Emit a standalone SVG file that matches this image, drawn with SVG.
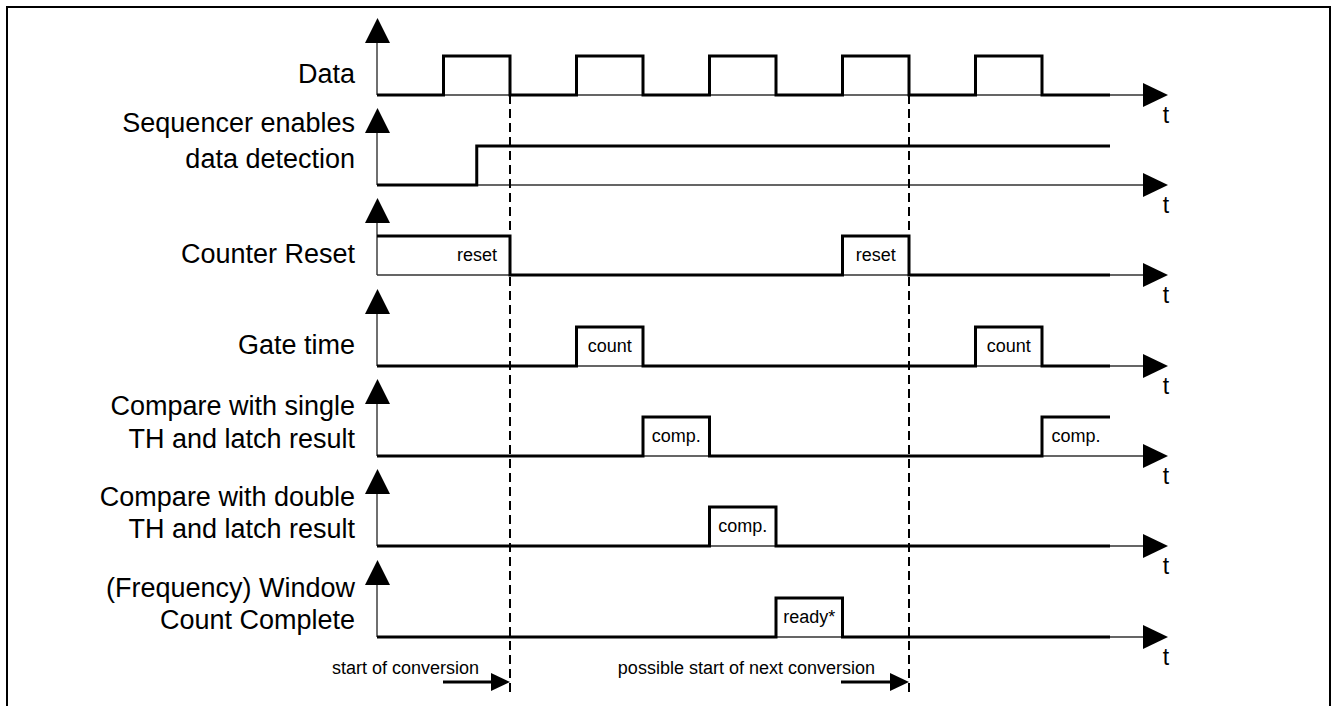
<svg xmlns="http://www.w3.org/2000/svg" xmlns:xlink="http://www.w3.org/1999/xlink" width="1332" height="706" viewBox="0 0 1332 706">
<style>
.lbl{font-family:"Liberation Sans",Arial,sans-serif;font-size:27px;fill:#000;text-anchor:end}
.sm{font-family:"Liberation Sans",Arial,sans-serif;font-size:18px;fill:#000}
.c{text-anchor:middle}
.e{text-anchor:end}
.t{font-family:"Liberation Sans",Arial,sans-serif;font-size:23px;fill:#000;text-anchor:middle}
.ax{fill:none;stroke:#333;stroke-width:1.4}
.sig{fill:#fff;stroke:#000;stroke-width:3;stroke-linejoin:miter;stroke-linecap:butt}
.dash{fill:none;stroke:#000;stroke-width:2;stroke-dasharray:9 5}
.arr{fill:none;stroke:#000;stroke-width:3}
</style>
<defs>
<path id="ta" d="M0,-12 L25,0 L0,12 Z" fill="#000"/>
<path id="ya" d="M-12.5,0 L0,-25 L12.5,0 Z" fill="#000"/>
<path id="ba" d="M0,-9 L19,0 L0,9 Z" fill="#000"/>
</defs>
<rect width="1332" height="706" fill="#fff"/>
<path d="M7,706 V7 H1330 V706" fill="none" stroke="#000" stroke-width="2"/>

<g id="row-data">
<path class="ax" d="M377,95 V43 M377,95 H1143"/>
<use xlink:href="#ya" x="377.5" y="43"/>
<use xlink:href="#ta" x="1143" y="95"/>
<path class="sig" fill="none" d="M377,95 H443.5 V56 H510 V95 H576.5 V56 H643 V95 H709.5 V56 H776 V95 H842.5 V56 H909 V95 H975.5 V56 H1042 V95 H1110" style="fill:none"/>
<text class="lbl" x="355" y="83">Data</text>
<text class="t" x="1166" y="123">t</text>
</g>

<g id="row-sequencer">
<path class="ax" d="M377,185 V133 M377,185 H1143"/>
<use xlink:href="#ya" x="377.5" y="133"/>
<use xlink:href="#ta" x="1143" y="185"/>
<path class="sig" style="fill:none" d="M377,185 H476.75 V146 H1110"/>
<text class="lbl" x="355" y="132">Sequencer enables</text>
<text class="lbl" x="355" y="168">data detection</text>
<text class="t" x="1166" y="213">t</text>
</g>

<g id="row-counter-reset">
<path class="ax" d="M377,275 V223 M377,275 H1143"/>
<use xlink:href="#ya" x="377.5" y="223"/>
<use xlink:href="#ta" x="1143" y="275"/>
<path class="sig" style="fill:none" d="M377,236 H510 V275 H842.5 V236 H909 V275 H1110"/>
<text class="sm e" x="497" y="261">reset</text>
<text class="sm c" x="875.75" y="261">reset</text>
<text class="lbl" x="355" y="263">Counter Reset</text>
<text class="t" x="1166" y="303">t</text>
</g>

<g id="row-gate-time">
<path class="ax" d="M377,366 V314 M377,366 H1143"/>
<use xlink:href="#ya" x="377.5" y="314"/>
<use xlink:href="#ta" x="1143" y="366"/>
<path class="sig" style="fill:none" d="M377,366 H576.5 V327 H643 V366 H975.5 V327 H1042 V366 H1110"/>
<text class="sm c" x="609.75" y="352">count</text>
<text class="sm c" x="1008.75" y="352">count</text>
<text class="lbl" x="355" y="354">Gate time</text>
<text class="t" x="1166" y="394">t</text>
</g>

<g id="row-compare-single">
<path class="ax" d="M377,456 V404 M377,456 H1143"/>
<use xlink:href="#ya" x="377.5" y="404"/>
<use xlink:href="#ta" x="1143" y="456"/>
<path class="sig" style="fill:none" d="M377,456 H643 V417 H709.5 V456 H1042 V417 H1110"/>
<text class="sm c" x="676.25" y="442">comp.</text>
<text class="sm c" x="1076" y="442">comp.</text>
<text class="lbl" x="355" y="415">Compare with single</text>
<text class="lbl" x="355" y="448">TH and latch result</text>
<text class="t" x="1166" y="484">t</text>
</g>

<g id="row-compare-double">
<path class="ax" d="M377,546 V494 M377,546 H1143"/>
<use xlink:href="#ya" x="377.5" y="494"/>
<use xlink:href="#ta" x="1143" y="546"/>
<path class="sig" style="fill:none" d="M377,546 H709.5 V507 H776 V546 H1110"/>
<text class="sm c" x="742.75" y="532">comp.</text>
<text class="lbl" x="355" y="506">Compare with double</text>
<text class="lbl" x="355" y="538">TH and latch result</text>
<text class="t" x="1166" y="574">t</text>
</g>

<g id="row-window-complete">
<path class="ax" d="M377,637 V585 M377,637 H1143"/>
<use xlink:href="#ya" x="377.5" y="585"/>
<use xlink:href="#ta" x="1143" y="637"/>
<path class="sig" style="fill:none" d="M377,637 H776 V598 H842.5 V637 H1110"/>
<text class="sm c" x="809.25" y="623">ready*</text>
<text class="lbl" x="355" y="597">(Frequency) Window</text>
<text class="lbl" x="355" y="629">Count Complete</text>
<text class="t" x="1166" y="665">t</text>
</g>

<g id="connectors">
<path class="dash" d="M510,95 V692"/>
<path class="dash" d="M909,95 V692"/>
<path class="arr" d="M443,682 H492"/>
<use xlink:href="#ba" x="491" y="682"/>
<path class="arr" d="M841,682 H891"/>
<use xlink:href="#ba" x="890" y="682"/>
<text class="sm e" x="479" y="674">start of conversion</text>
<text class="sm e" x="875" y="674">possible start of next conversion</text>
</g>
</svg>
